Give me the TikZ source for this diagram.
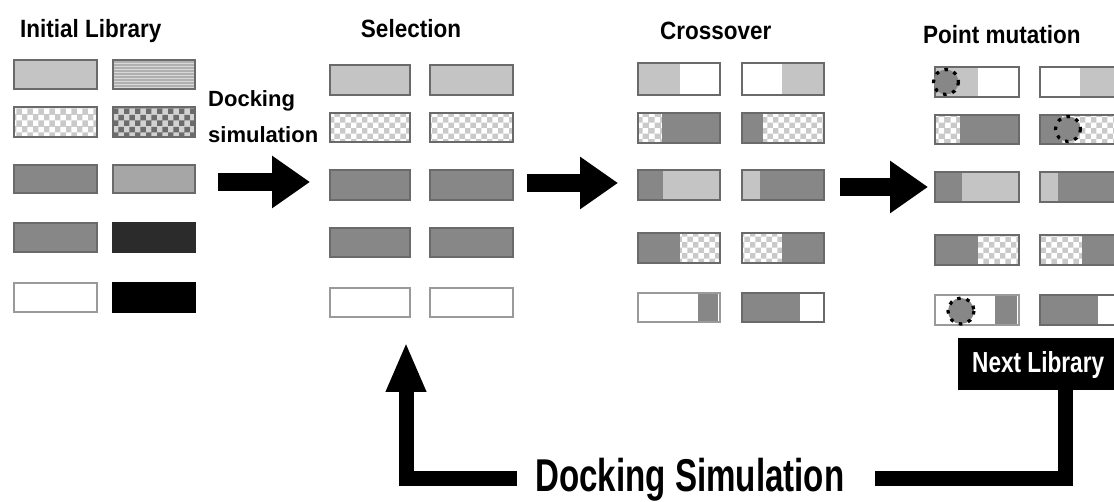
\documentclass[tikz,border=0pt]{standalone}
\usepackage{fontspec}
\setmainfont{Liberation Sans}
\newfontfamily\tfont[FakeStretch=0.9]{Liberation Sans}
\newfontfamily\bigfont[FakeStretch=0.72]{Liberation Sans}
\newfontfamily\nlfont[FakeStretch=0.78]{Liberation Sans}
\usetikzlibrary{patterns,arrows.meta}
\definecolor{lgc}{HTML}{C4C4C4}
\definecolor{mlc}{HTML}{A6A6A6}
\definecolor{mdc}{HTML}{878787}
\definecolor{dkc}{HTML}{2B2B2B}
\definecolor{edg}{HTML}{6A6A6A}
\definecolor{edw}{HTML}{9A9A9A}
\newcommand\gseg[5]{\path[#1] (#2,#4) rectangle (#3,#5);}
\newcommand\gout[5][edg]{\draw[line width=1.8pt,draw=#1] (#2,#4) rectangle (#3,#5);}
\begin{document}
\begin{tikzpicture}[x=1pt,y=-1pt,
  lg/.style={fill=lgc},
  ml/.style={fill=mlc},
  md/.style={fill=mdc},
  wh/.style={fill=white},
  dk/.style={fill=dkc},
  bk/.style={fill=black},
  st/.style={preaction={fill=gray!42},pattern=checkerboard,pattern color=white},
  ds/.style={preaction={fill=gray!35},pattern=checkerboard,pattern color=gray!85!black},
  hl/.style={preaction={fill=gray!62},pattern=horizontal lines,pattern color=gray!30},
  ttl/.style={font=\tfont\bfseries\fontsize{25}{28}\selectfont,inner sep=0pt},
  dlab/.style={font=\bfseries\fontsize{22}{26}\selectfont,inner sep=0pt,anchor=base west},
  bigarrow/.style={line width=18pt,-{Triangle[width=50pt,length=38pt]}},
  looparrow/.style={line width=15pt},
  mut/.style={fill=mdc,draw=black,line width=3.2pt,dash pattern=on 3.5pt off 6pt},
]
\useasboundingbox (0,0) rectangle (1114,502);
\clip (0,0) rectangle (1114,502);

% ---------- titles ----------
\node[ttl,anchor=base west] (tinit) at (20,38) {Initial Library};
\node[ttl,anchor=base] (tsel) at (411,38) {Selection};
\node[ttl,anchor=base west] (tcross) at (660,40) {Crossover};
\node[ttl,anchor=base west] (tmut) at (923,44) {Point mutation};
\node[dlab] (dl1) at (208,107) {Docking};
\node[dlab] (dl2) at (208,143) {simulation};

% ---------- Initial library ----------
\gseg{lg}{14}{97}{60}{89}\gout{14}{97}{60}{89}
\gseg{hl}{113}{195}{60}{89}\gout{113}{195}{60}{89}
\gseg{st}{14}{97}{107}{137}\gout{14}{97}{107}{137}
\gseg{ds}{113}{195}{107}{137}\gout{113}{195}{107}{137}
\gseg{md}{14}{97}{165}{193}\gout{14}{97}{165}{193}
\gseg{ml}{113}{195}{165}{193}\gout{113}{195}{165}{193}
\gseg{md}{14}{97}{223}{252}\gout{14}{97}{223}{252}
\gseg{dk}{113}{195}{223}{252}\gout[dkc]{113}{195}{223}{252}
\gseg{wh}{14}{97}{283}{312}\gout[edw]{14}{97}{283}{312}
\gseg{bk}{113}{195}{283}{312}\gout[black]{113}{195}{283}{312}

% ---------- Selection ----------
\gseg{lg}{330}{410}{65}{95}\gout{330}{410}{65}{95}
\gseg{lg}{430}{513}{65}{95}\gout{430}{513}{65}{95}
\gseg{st}{330}{410}{113}{142}\gout{330}{410}{113}{142}
\gseg{st}{430}{513}{113}{142}\gout{430}{513}{113}{142}
\gseg{md}{330}{410}{170}{200}\gout{330}{410}{170}{200}
\gseg{md}{430}{513}{170}{200}\gout{430}{513}{170}{200}
\gseg{md}{330}{410}{228}{257}\gout{330}{410}{228}{257}
\gseg{md}{430}{513}{228}{257}\gout{430}{513}{228}{257}
\gseg{wh}{330}{410}{288}{317}\gout[edw]{330}{410}{288}{317}
\gseg{wh}{430}{513}{288}{317}\gout[edw]{430}{513}{288}{317}

% ---------- Crossover ----------
\gseg{lg}{638}{680}{63}{95}\gseg{wh}{680}{720}{63}{95}\gout{638}{720}{63}{95}
\gseg{wh}{742}{782}{63}{95}\gseg{lg}{782}{824}{63}{95}\gout{742}{824}{63}{95}
\gseg{st}{638}{662}{113}{143}\gseg{md}{662}{720}{113}{143}\gout{638}{720}{113}{143}
\gseg{md}{742}{763}{113}{143}\gseg{st}{763}{824}{113}{143}\gout{742}{824}{113}{143}
\gseg{md}{638}{663}{170}{200}\gseg{lg}{663}{720}{170}{200}\gout{638}{720}{170}{200}
\gseg{lg}{742}{760}{170}{200}\gseg{md}{760}{824}{170}{200}\gout{742}{824}{170}{200}
\gseg{md}{638}{680}{233}{263}\gseg{st}{680}{720}{233}{263}\gout{638}{720}{233}{263}
\gseg{st}{742}{782}{233}{263}\gseg{md}{782}{824}{233}{263}\gout{742}{824}{233}{263}
\gseg{wh}{638}{698}{293}{322}\gseg{md}{698}{718}{293}{322}\gout[edw]{638}{720}{293}{322}
\gseg{md}{742}{800}{293}{322}\gseg{wh}{800}{824}{293}{322}\gout{742}{824}{293}{322}

% ---------- Point mutation ----------
\gseg{lg}{935}{978}{67}{97}\gseg{wh}{978}{1019}{67}{97}\gout{935}{1019}{67}{97}
\gseg{wh}{1040}{1080}{67}{97}\gseg{lg}{1080}{1130}{67}{97}\gout{1040}{1130}{67}{97}
\gseg{st}{935}{960}{115}{144}\gseg{md}{960}{1019}{115}{144}\gout{935}{1019}{115}{144}
\gseg{md}{1040}{1062}{115}{144}\gseg{st}{1062}{1130}{115}{144}\gout{1040}{1130}{115}{144}
\gseg{md}{935}{962}{172}{202}\gseg{lg}{962}{1019}{172}{202}\gout{935}{1019}{172}{202}
\gseg{lg}{1040}{1058}{172}{202}\gseg{md}{1058}{1130}{172}{202}\gout{1040}{1130}{172}{202}
\gseg{md}{935}{978}{235}{265}\gseg{st}{978}{1019}{235}{265}\gout{935}{1019}{235}{265}
\gseg{st}{1040}{1082}{235}{265}\gseg{md}{1082}{1130}{235}{265}\gout{1040}{1130}{235}{265}
\gseg{wh}{935}{995}{295}{325}\gseg{md}{995}{1017}{295}{325}\gout[edw]{935}{1019}{295}{325}
\gseg{md}{1040}{1098}{295}{325}\gseg{wh}{1098}{1130}{295}{325}\gout{1040}{1130}{295}{325}
% mutation marks
\path[mut] (946,82) circle (12.5);
\path[mut] (1068,129) circle (12.5);
\path[mut] (961,311) circle (13);

% ---------- arrows between stages ----------
\coordinate (a1s) at (218,182); \coordinate (a1e) at (310,182);
\coordinate (a2s) at (527,183); \coordinate (a2e) at (618,183);
\coordinate (a3s) at (840,187); \coordinate (a3e) at (928,187);
\draw[bigarrow] (a1s) -- (a1e);
\draw[bigarrow] (a2s) -- (a2e);
\draw[bigarrow] (a3s) -- (a3e);

% ---------- next library & loop ----------
\node[fill=black,minimum width=170pt,minimum height=52pt,anchor=north west,inner sep=0pt] (nl) at (958,338) {};
\node[font=\nlfont\bfseries\fontsize{29}{32}\selectfont,text=white,inner sep=0pt,anchor=base west] (nlt) at (972,373) {Next Library};
\node[font=\bigfont\bfseries\fontsize{46}{50}\selectfont,inner sep=0pt,anchor=base west] (dsim) at (535,491) {Docking Simulation};
\coordinate (selbot) at (406,342);
\draw[looparrow] (nl.south -| 1065,0) -- (1065,478) -- ([xshift=30pt]dsim.east |- 0,478);
\draw[looparrow,-{Triangle[width=37pt,length=50pt]}] ([xshift=-18pt]dsim.west |- 0,478) -- (406,478) -- (selbot);
\end{tikzpicture}
\end{document}
